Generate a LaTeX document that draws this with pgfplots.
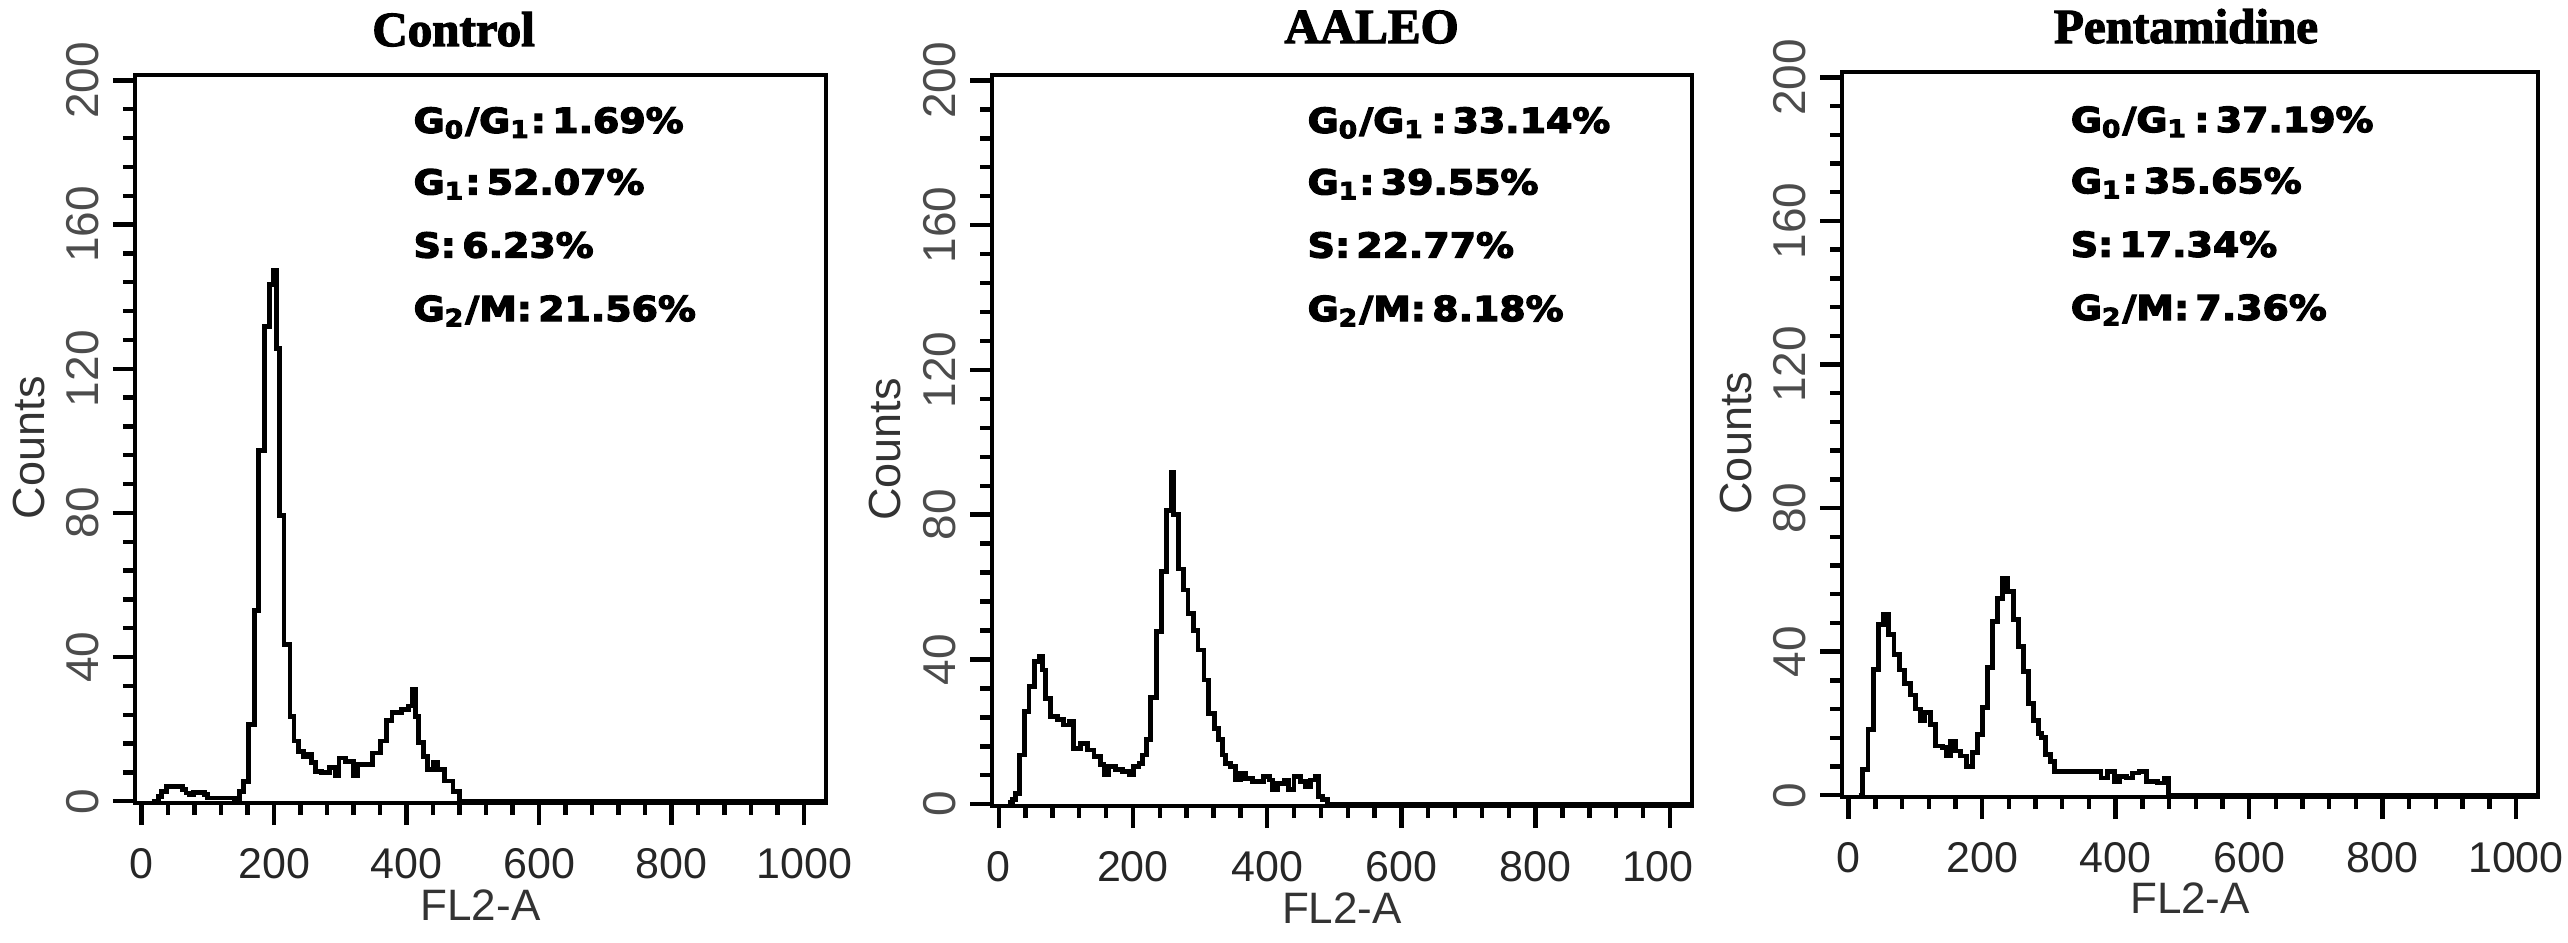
\documentclass[border=0pt]{standalone}
\usepackage{fontspec}
\setmainfont{Liberation Sans}
\newfontfamily\titlefont{Liberation Serif}[BoldFeatures={FakeBold=2.5}]
\newfontfamily\annfont{DejaVu Sans}[BoldFeatures={FakeBold=3.5}]
\usepackage{pgfplots}
\pgfplotsset{compat=1.18}
\pgfplotsset{fcm/.style={
  scale only axis, anchor=south west,
  xmin=-10, xmax=1033, ymin=-0.5, ymax=201.5,
  axis line style={line width=0.9pt},
  xtick={0,200,...,1000}, ytick={0,40,...,200},
  minor x tick num=4, minor y tick num=4,
  tick align=outside, tick pos=left,
  major tick length=5.5pt, minor tick length=3pt,
  every tick/.append style={line width=1.1pt, black},
  major tick style={line width=1.1pt, black},
  minor tick style={line width=1.1pt, black},
  /pgf/number format/assume math mode=true,
  /pgf/number format/1000 sep={},
  xticklabel style={font=\fontsize{10.75}{12}\selectfont, text=black!85, yshift=-2.25pt},
  yticklabel style={font=\fontsize{11.5}{12}\selectfont, text=black!70, rotate=90, anchor=south},
  ylabel={Counts},
  ylabel style={at={(axis description cs:-0.153,0.488)}, anchor=center, font=\fontsize{11.25}{12}\selectfont, text=black!80},
  xlabel={FL2-A},
  xlabel style={at={(axis description cs:0.5,-0.14)}, anchor=center, font=\fontsize{11}{12}\selectfont, text=black!80},
}}
\pgfplotsset{fcsline/.style={const plot, black, line width=1.2pt, line join=miter, mark=none}}
\begin{document}
\begin{tikzpicture}
\useasboundingbox (0,0) rectangle (642pt,-235.5pt);
% Control
\begin{axis}[fcm, at={(33.75pt,-200.75pt)}, width=172.75pt, height=182pt]
\addplot[fcsline] coordinates {(15,0)(25,1.2)(30,2.8)(38,4)(62,3.3)(67,2.3)(72,1.8)(78,2.5)(95,1.8)(100,0.9)(133,0.9)(140,0.2)(148,2.8)(154,5.5)(161,21.3)(170,52.9)(177,97.4)(185,131.7)(193,143.3)(199,147.4)(203,125.6)(208,79.3)(215,43.5)(224,23.4)(230,16.7)(237,13.9)(244,12.5)(251,12.9)(257,10.7)(263,8.3)(272,7.9)(284,9.3)(292,7)(298,12)(308,11.1)(320,7)(326,10.2)(348,13.4)(360,16.7)(370,22.3)(378,24.6)(392,25.5)(403,26.4)(408,31.1)(413,23.6)(418,16.2)(425,12.5)(432,8.8)(440,10.7)(447,8.8)(457,5.6)(470,2.8)(480,0)(1033,0)};
\end{axis}
% AALEO
\begin{axis}[fcm, at={(248pt,-201.5pt)}, width=175pt, height=182.75pt]
\addplot[fcsline] coordinates {(15,0)(18,0.5)(21,1.2)(25,3)(30.7,13.6)(38,25.6)(45,32.5)(53,39.4)(60,40.8)(65,37.1)(70,29.3)(77,24.2)(87,23.3)(97,21.9)(105,22.8)(112,15.5)(122,16.8)(132,15)(142,13.2)(152,10.9)(157,8.1)(164,10.4)(174,9.5)(184,9)(194,8.1)(201,10.4)(209,11.3)(214,13.6)(220,17.8)(226,29.5)(235,47.7)(242,64.2)(250,81.2)(258,91.8)(261,80)(268,65)(275,59.2)(282,52.7)(290,48.1)(297,42.6)(306,34.3)(312,25)(321,21)(328,17.8)(333,13.6)(338,11.3)(345,10.4)(353,6.7)(360,8.6)(368,7.2)(378,6.3)(395,7.6)(403,6.7)(408,4)(415,5.8)(425,6.7)(432,4)(440,7.6)(450,6.3)(457,4.9)(465,6.7)(472,7.6)(477,2.1)(482,1.2)(490,0)(1033,0)};
\end{axis}
% Pentamidine
\begin{axis}[fcm, at={(460.5pt,-199.25pt)}, width=174pt, height=181.25pt]
\addplot[fcsline] coordinates {(15,0)(21,7.2)(29,18.3)(37,35)(45,47.5)(52,50.3)(60,44.7)(68,39.1)(76,34.9)(84,31.2)(93,27.9)(100,24)(107,20.8)(114,23)(123,19.7)(130,13.7)(140,13.2)(147,10.9)(153,15.1)(160,12.3)(168,10.9)(177,8.1)(185,11.8)(193,16.9)(200,24.4)(208,35.5)(215,48.4)(223,54.9)(231,60.5)(238,56.8)(247,48.9)(255,41.4)(262,34.5)(269,25.6)(277,20.9)(284,17.2)(289,16)(295,11.4)(302,9.5)(309,6.7)(378,4.8)(388,6.7)(398,3.9)(406,5.3)(416,4.8)(425,6.2)(435,6.7)(446,3.9)(463,3.4)(473,4.8)(479,0)(1033,0)};
\end{axis}
% crop of the middle panel's last tick label
\fill[white] (423.6pt,-207pt) rectangle (431pt,-226pt);
% titles
\node[anchor=base, font=\titlefont\bfseries\fontsize{12.25}{13}\selectfont] at (113.4pt,-11.5pt) {Control};
\node[anchor=base, font=\titlefont\bfseries\fontsize{12.25}{13}\selectfont] at (342.9pt,-10.75pt) {AALEO};
\node[anchor=base, font=\titlefont\bfseries\fontsize{12.25}{13}\selectfont] at (546.5pt,-10.75pt) {Pentamidine};
% annotations
\begin{scope}[every node/.style={anchor=base west, inner sep=0pt, xscale=1.1, font=\annfont\bfseries\fontsize{8.6}{9}\selectfont}]
\node at (103.2pt,-33.2pt) {G\textsubscript{0}/G\textsubscript{1}:\,1.69\%};
\node at (103.2pt,-48.6pt) {G\textsubscript{1}:\,52.07\%};
\node at (103.2pt,-64.4pt) {S:\,6.23\%};
\node at (103.2pt,-80.25pt) {G\textsubscript{2}/M:\,21.56\%};
\node at (326.7pt,-33.2pt) {G\textsubscript{0}/G\textsubscript{1}\,:\,33.14\%};
\node at (326.7pt,-48.6pt) {G\textsubscript{1}:\,39.55\%};
\node at (326.7pt,-64.4pt) {S:\,22.77\%};
\node at (326.7pt,-80.25pt) {G\textsubscript{2}/M:\,8.18\%};
\node at (517.5pt,-33pt) {G\textsubscript{0}/G\textsubscript{1}\,:\,37.19\%};
\node at (517.5pt,-48.3pt) {G\textsubscript{1}:\,35.65\%};
\node at (517.5pt,-64.2pt) {S:\,17.34\%};
\node at (517.5pt,-80pt) {G\textsubscript{2}/M:\,7.36\%};
\end{scope}
\end{tikzpicture}
\end{document}
